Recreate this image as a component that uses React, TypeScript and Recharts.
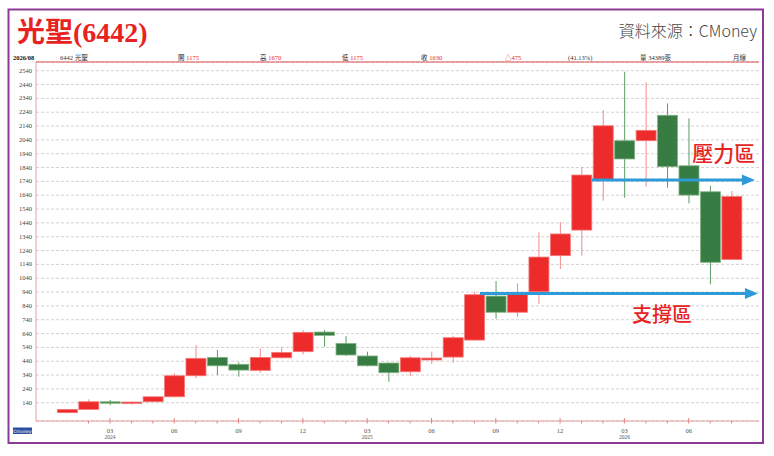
import React from 'react';
import { ComposedChart, Bar, XAxis, YAxis, CartesianGrid, ReferenceLine, ReferenceDot } from 'recharts';

const months = [
  '2024/01', '2024/02', '2024/03', '2024/04', '2024/05', '2024/06', '2024/07', '2024/08', '2024/09', '2024/10', '2024/11', '2024/12',
  '2025/01', '2025/02', '2025/03', '2025/04', '2025/05', '2025/06', '2025/07', '2025/08', '2025/09', '2025/10', '2025/11', '2025/12',
  '2026/01', '2026/02', '2026/03', '2026/04', '2026/05', '2026/06', '2026/07', '2026/08',
];
const opens = [68, 92, 147, 140, 147, 183, 335, 468, 418, 374, 465, 509, 651, 569, 478, 427, 364, 449, 470, 593, 911, 794, 942, 1203, 1388, 1754, 2034, 2034, 2218, 1853, 1665, 1175];
const highs = [95, 165, 160, 147, 185, 352, 557, 521, 432, 533, 540, 666, 666, 622, 509, 430, 478, 509, 622, 942, 1020, 1003, 1372, 1444, 1846, 2256, 2533, 2456, 2304, 2196, 1709, 1670];
const lows = [65, 88, 122, 126, 145, 180, 316, 340, 328, 357, 458, 490, 545, 478, 403, 292, 333, 420, 429, 588, 747, 762, 854, 1107, 1203, 1600, 1622, 1702, 1694, 1581, 996, 1175];
const closes = [92, 147, 140, 145, 183, 335, 461, 407, 376, 468, 504, 649, 627, 485, 407, 357, 465, 463, 610, 921, 794, 938, 1193, 1360, 1786, 2142, 1902, 2109, 1846, 1641, 1155, 1630];

const yTicks = [140, 240, 340, 440, 540, 640, 740, 840, 940, 1040, 1140, 1240, 1340, 1440, 1540, 1640, 1740, 1840, 1940, 2040, 2140, 2240, 2340, 2440, 2540];
const yDomain = [8, 2603];
const xDomain = [-1.45, 32.28];

const supportLevel = 929;
const pressureLevel = 1750;
const supportStart = 19.26;
const supportEnd = 32.23;
const pressureStart = 24.49;
const pressureEnd = 32.09;

const headerItems = [
  { x: 13, parts: [{ t: '2026/08', c: '#111', b: true }] },
  { x: 60, parts: [{ t: '6442 光聖', c: '#333' }] },
  { x: 178, parts: [{ t: '開 ', c: '#223' }, { t: '1175', c: '#e32626' }] },
  { x: 260, parts: [{ t: '高 ', c: '#223' }, { t: '1670', c: '#e32626' }] },
  { x: 342, parts: [{ t: '低 ', c: '#223' }, { t: '1175', c: '#e32626' }] },
  { x: 421, parts: [{ t: '收 ', c: '#223' }, { t: '1630', c: '#e32626' }] },
  { x: 505, parts: [{ t: '△475', c: '#e32626' }] },
  { x: 568, parts: [{ t: '(41.13%)', c: '#333' }] },
  { x: 640, parts: [{ t: '量 34389張', c: '#333' }] },
  { x: 733, parts: [{ t: '月線', c: '#333' }] },
];

const data = months.map((m, i) => ({
  i,
  month: m,
  open: opens[i],
  high: highs[i],
  low: lows[i],
  close: closes[i],
  range: [lows[i], highs[i]],
}));

const xTicks = months.map((_, i) => i).filter((i) => i >= 1);

const RED = '#ee2b2b';
const RED_EDGE = '#f47a7a';
const RED_WICK = '#f28a8a';
const GREEN = '#377d43';
const GREEN_EDGE = '#86b486';
const GREEN_WICK = '#5c9c60';

const Candle = (props: any) => {
  const { x, y, width, height, payload } = props;
  if (!payload) return null;
  const top = Math.min(y, y + height);
  const bottom = Math.max(y, y + height);
  const { open, close, high, low } = payload;
  const span = high - low || 1;
  const px = (v: number) => bottom - ((v - low) / span) * (bottom - top);
  const up = close >= open;
  const bodyTop = px(Math.max(open, close));
  const bodyBot = px(Math.min(open, close));
  const cx = x + width / 2;
  const bh = Math.max(bodyBot - bodyTop, 1.5);
  return (
    <g>
      <line x1={cx} x2={cx} y1={top} y2={bottom} stroke={up ? RED_WICK : GREEN_WICK} strokeWidth={1} />
      <rect x={x} y={bodyTop} width={width} height={bh} fill={up ? RED : GREEN} stroke={up ? RED_EDGE : GREEN_EDGE} strokeWidth={0.8} />
    </g>
  );
};

const XTick = (props: any) => {
  const { x, y, payload } = props;
  const idx = payload.value as number;
  const m = months[idx];
  if (!m) return null;
  const [yr, mo] = m.split('/');
  const quarter = ['03', '06', '09', '12'].includes(mo);
  return (
    <g>
      <line x1={x} x2={x} y1={quarter ? y - 3 : y} y2={y + 2.5} stroke="#e08585" strokeWidth={1} />
      {quarter && (
        <text x={x} y={y + 12} textAnchor="middle" fontSize={6.5} fontFamily="'Liberation Serif', serif" fill="#555">{mo}</text>
      )}
      {mo === '03' && (
        <text x={x} y={y + 18} textAnchor="middle" fontSize={5.5} fontFamily="'Liberation Serif', serif" fill="#555">{yr}</text>
      )}
    </g>
  );
};

const YTick = (props: any) => {
  const { x, y, payload } = props;
  return (
    <text x={x - 4} y={y + 2} textAnchor="end" fontSize={6.5} fontFamily="'Liberation Serif', serif" fill="#444">{payload.value}</text>
  );
};

const ArrowHead = (props: any) => {
  const { cx, cy } = props;
  if (cx == null || cy == null) return null;
  return <polygon points={`${cx},${cy} ${cx - 13},${cy - 5.5} ${cx - 13},${cy + 5.5}`} fill="#2e9bd8" />;
};

const makeLabel = (txt: string, size: number) => (props: any) => {
  const { cx, cy } = props;
  if (cx == null || cy == null) return null;
  return (
    <text x={cx} y={cy} textAnchor="middle" dominantBaseline="central" fontSize={size} fontWeight={500} fontFamily="'Noto Sans CJK TC', sans-serif" fill="#e8231f">{txt}</text>
  );
};

export default function App() {
  return (
    <div style={{ position: 'absolute', left: 0, top: 0, width: 774, height: 456, background: '#fff', overflow: 'hidden' }}>
      <svg width={774} height={456} style={{ position: 'absolute', left: 0, top: 0 }}>
        <rect x={8.5} y={9.5} width={754.5} height={433.5} fill="none" stroke="#8b3a96" strokeWidth={2} />
        <text x={17} y={42} fontSize={28} fontWeight={700} fill="#e8221f" fontFamily="'Liberation Serif', 'Noto Sans CJK TC', serif">光聖(6442)</text>
        <text x={757} y={37} textAnchor="end" fontSize={16} fontWeight={300} fill="#444" fontFamily="'Noto Sans CJK TC', sans-serif">資料來源：CMoney</text>
        {headerItems.map((h, k) => (
          <text key={k} x={h.x} y={59.5} fontSize={6.5} fontFamily="'Liberation Serif', 'Noto Sans CJK TC', serif">
            {h.parts.map((p: any, j: number) => (
              <tspan key={j} fill={p.c} fontWeight={p.b ? 700 : 400}>{p.t}</tspan>
            ))}
          </text>
        ))}
        <rect x={13} y={427.5} width={19} height={6.5} fill="#2b4f9e" />
        <text x={22.5} y={432.7} textAnchor="middle" fontSize={4.5} fill="#fff" fontFamily="'DejaVu Sans', sans-serif">Cmoney</text>
      </svg>
      <div style={{ position: 'absolute', left: 0, top: 0 }}>
        <ComposedChart width={774} height={456} data={data} margin={{ top: 62, right: 15, bottom: 0, left: 0 }}>
          <CartesianGrid vertical={false} strokeDasharray="3 2" stroke="#d2d2d2" />
          <XAxis
            dataKey="i"
            type="number"
            domain={xDomain}
            allowDataOverflow
            ticks={xTicks}
            interval={0}
            height={35}
            tickLine={false}
            tickSize={0}
            tickMargin={0}
            axisLine={{ stroke: '#e6a0a0' }}
            tick={<XTick />}
          />
          <YAxis
            type="number"
            domain={yDomain}
            allowDataOverflow
            ticks={yTicks}
            interval={0}
            width={36}
            tickLine={false}
            tickSize={0}
            tickMargin={0}
            axisLine={{ stroke: '#e6a0a0' }}
            tick={<YTick />}
          />
          <ReferenceLine y={yDomain[1]} stroke="#d9534f" strokeWidth={1.2} />
          <Bar dataKey="range" barSize={20} shape={<Candle />} isAnimationActive={false} />
          <ReferenceLine segment={[{ x: supportStart, y: supportLevel }, { x: supportEnd - 0.4, y: supportLevel }]} stroke="#2e9bd8" strokeWidth={3} />
          <ReferenceDot x={supportEnd} y={supportLevel} r={0} shape={<ArrowHead />} />
          <ReferenceLine segment={[{ x: pressureStart, y: pressureLevel }, { x: pressureEnd - 0.4, y: pressureLevel }]} stroke="#2e9bd8" strokeWidth={3} />
          <ReferenceDot x={pressureEnd} y={pressureLevel} r={0} shape={<ArrowHead />} />
          <ReferenceDot x={30.64} y={1952} r={0} shape={makeLabel('壓力區', 21)} />
          <ReferenceDot x={27.75} y={788} r={0} shape={makeLabel('支撐區', 20)} />
        </ComposedChart>
      </div>
    </div>
  );
}
